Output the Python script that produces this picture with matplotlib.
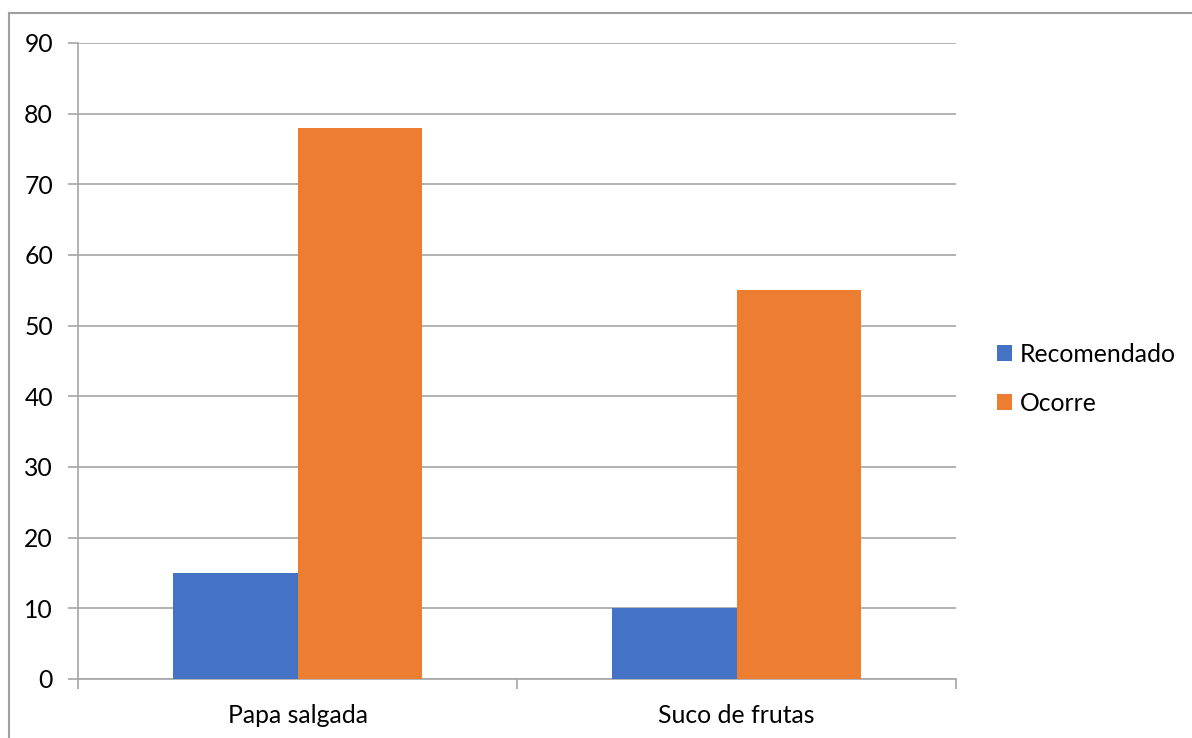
import matplotlib
matplotlib.use('Agg')
import matplotlib.pyplot as plt
from matplotlib.patches import Rectangle
import numpy as np

categories = ['Papa salgada', 'Suco de frutas']
recomendado = [15, 10]
ocorre = [78, 55]
series_names = ['Recomendado', 'Ocorre']
y_ticks = list(range(0, 100, 10))

BLUE = '#4472C4'
ORANGE = '#ED7D31'
GRID = '#a6a6a6'
FS = 17.8

plt.rcParams['font.family'] = ['Lato', 'DejaVu Sans']

fig = plt.figure(figsize=(11.92, 7.38), dpi=100)
ax = fig.add_axes([78 / 1192, 59 / 738, (956 - 78) / 1192, (679 - 43) / 738])

x = np.arange(len(categories))
w = 0.284
ax.bar(x - w / 2, recomendado, w, color=BLUE, label=series_names[0], zorder=3)
ax.bar(x + w / 2, ocorre, w, color=ORANGE, label=series_names[1], zorder=3)

ax.set_xlim(-0.5, len(categories) - 0.5)
ax.set_ylim(0, 90)
ax.set_yticks(y_ticks)
ax.yaxis.grid(True, color=GRID, linewidth=1.2, zorder=0)

# x ticks at category boundaries, labels at centres
ax.set_xticks(np.arange(len(categories) + 1) - 0.5)
ax.set_xticklabels([])
ax.set_xticks(x, minor=True)
ax.set_xticklabels(categories, minor=True)
ax.tick_params(axis='x', which='major', length=7, width=1.2, color=GRID, direction='out')
ax.tick_params(axis='x', which='minor', length=0, labelsize=FS, pad=18)
ax.tick_params(axis='y', length=7, width=1.2, color=GRID, labelsize=FS, pad=11)

for side in ['top', 'right']:
    ax.spines[side].set_visible(False)
for side in ['left', 'bottom']:
    ax.spines[side].set_color(GRID)
    ax.spines[side].set_linewidth(1.2)

leg = fig.legend(loc='center left', bbox_to_anchor=(975 / 1192, 1 - 379 / 738),
                 frameon=False, fontsize=FS, handlelength=0.6, handleheight=0.6,
                 handletextpad=0.3, labelspacing=1.05)

# outer chart border (cropped on right and bottom)
fig.patches.append(Rectangle((9 / 1192, -0.05), 1.2, (738 - 13) / 738 + 0.05,
                             transform=fig.transFigure, fill=False,
                             edgecolor='#a0a0a0', linewidth=1.5))

fig.savefig('out.png', dpi=100)
